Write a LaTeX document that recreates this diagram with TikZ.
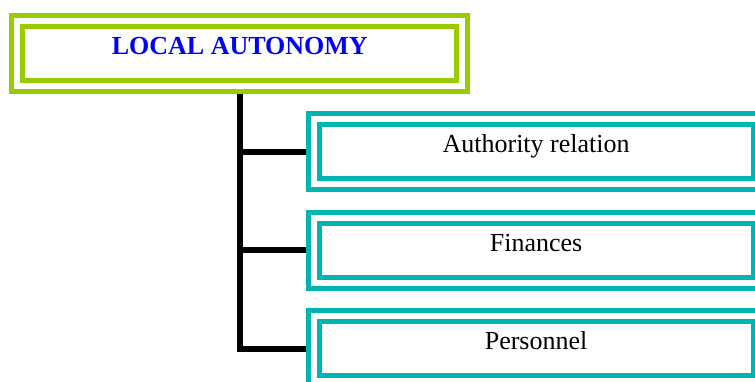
\documentclass[tikz,border=0pt]{standalone}
\usepackage{fontspec}
\setmainfont{Liberation Serif}
\definecolor{framegreen}{RGB}{153,204,0}
\definecolor{frameteal}{RGB}{0,180,178}
\definecolor{titleblue}{RGB}{0,0,255}
\begin{document}
\begin{tikzpicture}[x=1pt,y=-1pt,
  framebox/.style={rectangle, draw=#1, line width=5pt, double=white,
    double distance=6pt, fill=white, minimum width=445pt, minimum height=65pt,
    inner sep=0pt, outer sep=8pt, text height=20pt, text depth=18pt,
    font=\fontsize{26}{30}\selectfont},
  rootbox/.style={framebox=framegreen, text=titleblue,
    font=\fontsize{26}{30}\selectfont\bfseries},
  itembox/.style={framebox=frameteal, text=black},
  branch/.style={line width=6pt, draw=black}]
  \useasboundingbox (0,0) rectangle (755,381);
  \clip (0,0) rectangle (755,381);

  % tree connectors, drawn first so the frames sit on top
  \coordinate (trunk) at (240,90);
  \coordinate (y1) at (0,151.5);
  \coordinate (y2) at (0,250);
  \coordinate (y3) at (0,348.5);
  \draw[branch] (trunk) |- ([xshift=2pt]306,0 |- y3);
  \draw[branch] (trunk |- y1) -- ([xshift=2pt]306,0 |- y1);
  \draw[branch] (trunk |- y2) -- ([xshift=2pt]306,0 |- y2);

  % frames
  \node[rootbox] (root) at (239.8,53.4) {LOCAL AUTONOMY};
  \node[itembox] (auth) at (536.1,151.5) {Authority relation};
  \node[itembox] (fin)  at (536.1,250)   {Finances};
  \node[itembox] (pers) at (536.1,348.5) {Personnel};
\end{tikzpicture}
\end{document}
